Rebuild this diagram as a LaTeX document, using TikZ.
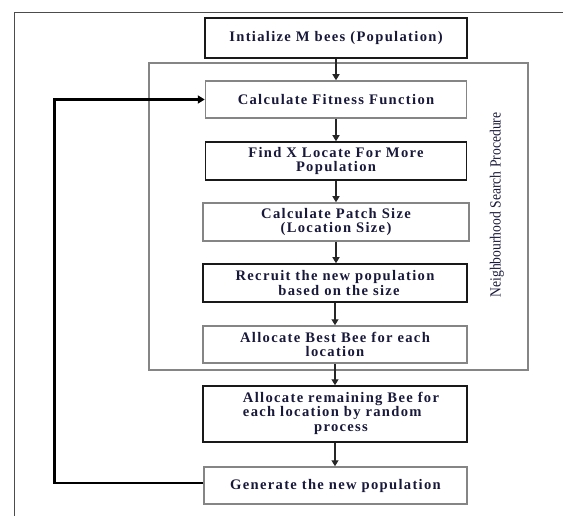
\documentclass[tikz,border=0pt]{standalone}
\usepackage{fontspec}
\setmainfont{Liberation Serif}
\usetikzlibrary{arrows.meta}
\definecolor{txt}{HTML}{18183A}
\definecolor{frm}{HTML}{858585}
\begin{document}
\begin{tikzpicture}[x=1pt,y=-1pt,
  boxtext/.style={font=\fontsize{14.6}{14.5}\selectfont\bfseries\addfontfeature{LetterSpace=9}, text=txt, align=center, inner sep=0pt},
  darkbox/.style={boxtext, draw=black!90, line width=1.5pt},
  greybox/.style={boxtext, draw=frm, line width=1.5pt},
  arr/.style={line width=1.2pt, draw=black!85, -{Triangle[width=7pt,length=6pt]}},
]
\useasboundingbox (0,0) rectangle (563,516);
% outer frame
\draw[line width=1pt, black!70] (14,516) -- (14,12.5) -- (563,12.5);
% inner frame (neighbourhood search)
\draw[line width=1.6pt, frm] (149,63) rectangle (528,370);
\node[rotate=90, text=txt, font=\fontsize{15.5}{16}\selectfont, inner sep=0pt] (nsp) at (497,205) {\scalebox{0.88}[1]{Neighbourhood Search Procedure}};

\node[darkbox, line width=2pt, minimum width=262pt, minimum height=40pt] (init) at (336,38) {Intialize M bees (Population)};
\node[greybox, minimum width=261pt, minimum height=37pt] (calc) at (336,99.5) {Calculate Fitness Function};
\node[darkbox, minimum width=261pt, minimum height=38pt] (findx) at (336,161) {Find X Locate For More\\Population};
\node[greybox, minimum width=266pt, minimum height=38pt] (patch) at (336,222) {Calculate Patch Size\\(Location Size)};
\node[darkbox, minimum width=264pt, minimum height=38pt] (recruit) at (335,283) {Recruit the new population\\\hspace*{8pt}based on the size};
\node[greybox, minimum width=264pt, minimum height=37pt] (best) at (335,344.5) {Allocate Best Bee for each\\location};
\node[darkbox, minimum width=264pt, minimum height=56pt] (rem) at (335,414) {\hspace*{12pt}\raisebox{-3pt}{\begin{tabular}{@{}l@{}}Allocate remaining Bee for\\each location by random\\\multicolumn{1}{@{}c@{}}{process}\end{tabular}}};
\node[greybox, minimum width=263pt, minimum height=37pt] (gen) at (335.5,485.5) {Generate the new population};

\draw[arr] (init.south) -- (init.south |- calc.north);
\draw[arr] (calc.south) -- (calc.south |- findx.north);
\draw[arr] (findx.south) -- (findx.south |- patch.north);
\draw[arr] (patch.south) -- (patch.south |- recruit.north);
\draw[arr] (recruit.south) -- (recruit.south |- best.north);
\draw[arr] (best.south) -- (best.south |- rem.north);
\draw[arr] (rem.south) -- (rem.south |- gen.north);

\coordinate (fb) at (54.5,483);
\draw[line width=2.2pt, black, -{Triangle[width=8pt,length=7pt]}] (gen.west |- fb) -- (fb) -- (fb |- calc.west) -- (calc.west);
\end{tikzpicture}
\end{document}
